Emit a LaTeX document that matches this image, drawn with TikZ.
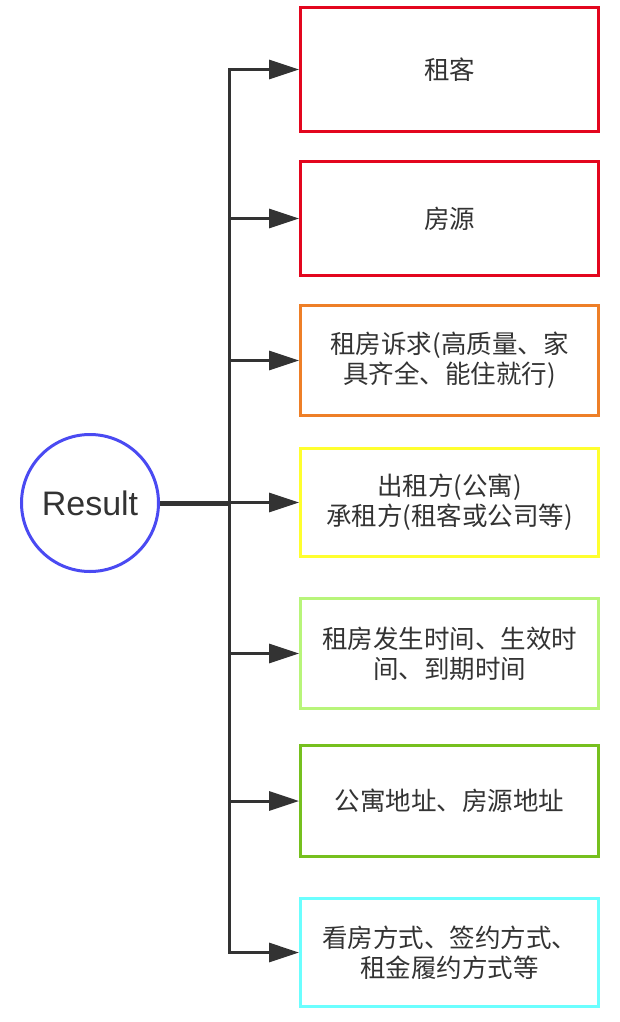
\documentclass[tikz,border=0pt]{standalone}
\usepackage{fontspec}
\setmainfont{Liberation Sans}
\newfontfamily\cjk{Noto Sans CJK SC}
\usetikzlibrary{arrows.meta}

\definecolor{ink}{HTML}{333333}
\definecolor{cRed}{HTML}{E3061E}
\definecolor{cOrange}{HTML}{EE7F27}
\definecolor{cYellow}{HTML}{FFFF2E}
\definecolor{cLime}{HTML}{B8F57A}
\definecolor{cGreen}{HTML}{76C01E}
\definecolor{cCyan}{HTML}{6BFFFF}
\definecolor{cBlue}{HTML}{4A4AF2}

\tikzset{
  topic/.style={draw=cBlue, line width=3pt, circle, minimum size=137pt,
    inner sep=0pt, text=ink, font=\fontsize{34pt}{39pt}\selectfont},
  item/.style={draw=#1, line width=3pt, rectangle, minimum width=298pt,
    inner sep=0pt, text=ink, align=center,
    font=\cjk\fontsize{25.5pt}{30pt}\selectfont},
  link/.style={draw=ink, line width=3pt, line join=miter,
    -{Triangle[length=30pt,width=19pt]}},
  stem/.style={draw=ink, line width=5pt},
}

\begin{document}
\begin{tikzpicture}[x=1pt, y=-1pt]
  \useasboundingbox (0,0) rectangle (620,1022);

  % central topic
  \node[topic] (res) at (90,503) {Result};

  % branch boxes
  \node[item=cRed,    minimum height=124pt] (b1) at (449.5,69.5) {租客};
  \node[item=cRed,    minimum height=114pt] (b2) at (449.5,218.5) {房源};
  \node[item=cOrange, minimum height=110pt] (b3) at (449.5,360.5) {租房诉求(高质量、家\\具齐全、能住就行)};
  \node[item=cYellow, minimum height=108pt] (b4) at (449.5,502.5) {出租方(公寓)\\承租方(租客或公司等)};
  \node[item=cLime,   minimum height=110pt] (b5) at (449.5,653.5) {租房发生时间、生效时\\间、到期时间};
  \node[item=cGreen,  minimum height=111pt] (b6) at (449.5,801) {公寓地址、房源地址};
  \node[item=cCyan,   minimum height=108pt] (b7) at (449.5,952.5) {看房方式、签约方式、\\租金履约方式等};

  % junction on the trunk
  \coordinate (j) at (229.5,503);

  % connectors
  \draw[stem] (res.east) -- (j);
  \foreach \b in {b1,b2,b3,b4,b5,b6,b7}
    \draw[link] (j) |- (\b.west);
\end{tikzpicture}
\end{document}
